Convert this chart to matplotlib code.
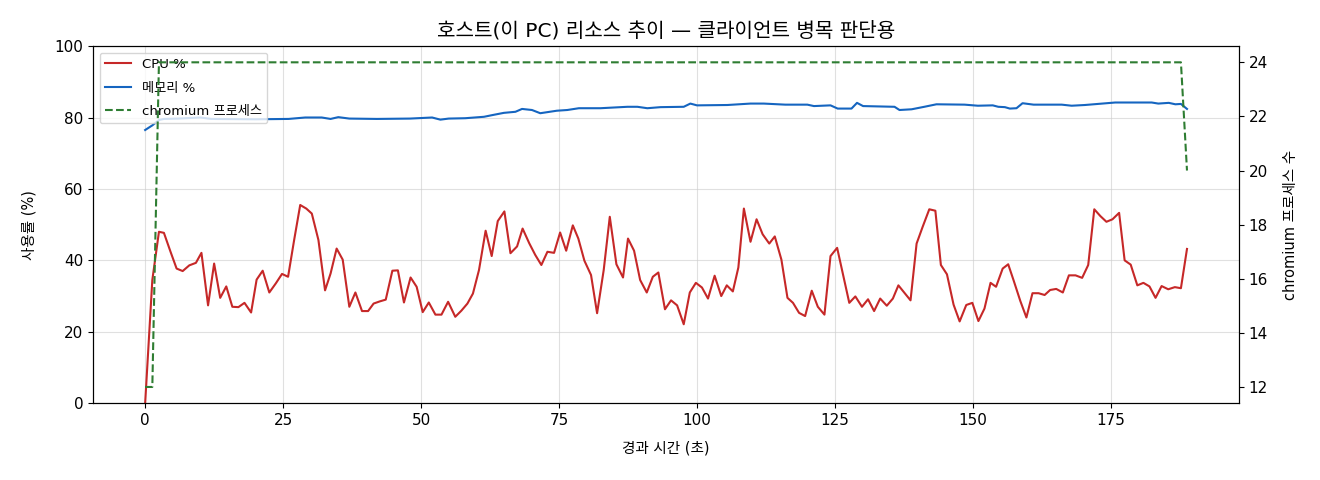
import matplotlib
matplotlib.use("Agg")
import matplotlib.pyplot as plt

plt.rcParams['font.family'] = ['DejaVu Sans', 'Noto Sans CJK KR']
plt.rcParams['axes.unicode_minus'] = False

# elapsed time (s) and CPU %
cpu_t = [0.0, 1.3, 2.5, 3.4, 4.6, 5.7, 6.8, 8.0, 9.2, 10.2, 11.4, 12.5, 13.6, 14.7, 15.8, 16.9,
         18.0, 19.2, 20.2, 21.3, 22.5, 23.7, 24.8, 25.9, 27.0, 28.1, 29.2, 30.2, 31.4, 32.6, 33.6,
         34.7, 35.8, 37.0, 38.1, 39.3, 40.4, 41.4, 42.5, 43.6, 44.8, 45.8, 46.9, 48.1, 49.2, 50.3,
         51.4, 52.6, 53.7, 54.9, 56.2, 57.3, 58.4, 59.4, 60.5, 61.7, 62.8, 63.9, 65.1, 66.2, 67.4,
         68.4, 69.6, 70.7, 71.8, 72.9, 74.1, 75.2, 76.3, 77.5, 78.5, 79.6, 80.8, 81.9, 83.1, 84.2,
         85.4, 86.6, 87.5, 88.6, 89.7, 90.9, 92.0, 93.0, 94.2, 95.3, 96.4, 97.6, 98.7, 99.8, 100.9,
         102.0, 103.2, 104.4, 105.4, 106.5, 107.5, 108.5, 109.7, 110.8, 111.9, 113.1, 114.1, 115.3,
         116.4, 117.4, 118.5, 119.6, 120.8, 121.9, 123.1, 124.2, 125.4, 126.5, 127.6, 128.7, 129.9,
         131.0, 132.1, 133.2, 134.4, 135.5, 136.5, 137.6, 138.7, 139.8, 140.9, 142.1, 143.2, 144.2,
         145.3, 146.5, 147.6, 148.8, 149.9, 151.0, 152.1, 153.2, 154.2, 155.4, 156.4, 157.4, 158.6,
         159.7, 160.8, 161.9, 163.0, 164.0, 165.1, 166.3, 167.4, 168.6, 169.8, 170.9, 172.0, 173.1,
         174.2, 175.3, 176.5, 177.5, 178.6, 179.8, 180.9, 182.0, 183.1, 184.2, 185.4, 186.6, 187.7,
         188.8]
cpu_v = [0, 34.5, 48, 47.7, 42.4, 37.7, 37, 38.6, 39.3, 42.1, 27.4, 39.1, 29.5, 32.7, 27, 26.9,
         28.1, 25.4, 34.6, 37.1, 31, 33.6, 36.2, 35.4, 45.7, 55.5, 54.5, 53.1, 45.7, 31.6, 36.3,
         43.3, 40.2, 27, 31, 25.8, 25.8, 27.9, 28.5, 29, 37.1, 37.2, 28.2, 35.2, 32.6, 25.5,
         28.2, 24.8, 24.8, 28.4, 24.2, 25.9, 27.9, 30.7, 37.3, 48.3, 41.2, 51, 53.7, 42, 43.9,
         48.9, 44.8, 41.5, 38.7, 42.4, 42.1, 47.8, 42.7, 49.8, 46.1, 39.9, 35.9, 25.2, 37.3, 52.2,
         38.9, 35.2, 46.1, 42.7, 34.5, 31, 35.4, 36.6, 26.3, 28.8, 27.4, 22.1, 31, 33.7, 32.4,
         29.3, 35.7, 30, 33, 31.3, 38, 54.5, 45.2, 51.5, 47.3, 44.7, 46.7, 40.2,
         29.5, 28.1, 25.3, 24.4, 31.5, 27, 24.8, 41.2, 43.5, 35.8, 28.1, 29.9, 27,
         29.1, 25.8, 29.3, 27.3, 29.3, 33, 30.9, 28.8, 44.7, 49.4, 54.3, 53.9, 38.7,
         36.1, 27.6, 22.9, 27.5, 28.1, 23, 26.5, 33.7, 32.6, 37.7, 38.9, 34.3, 28.6,
         24, 30.8, 30.8, 30.3, 31.7, 32, 31, 35.8, 35.8, 35.1, 38.7, 54.3, 52.4,
         50.8, 51.5, 53.3, 40, 38.8, 33, 33.7, 32.7, 29.5, 32.8, 31.9, 32.5, 32.2,
         43.2]

# memory % (vertices)
mem_t = [0.0, 1.3, 2.5, 3.4, 6, 10, 12, 20, 26, 29, 32, 33.6, 35, 37, 42, 48, 52, 53.5, 55, 58,
         61.4, 63, 65, 67.1, 68.3, 70.1, 71.6, 74.6, 76.5, 78.6, 82.5, 87.4, 89.2, 91.0, 93.4,
         97.6, 98.8, 100, 105.5, 109.7, 112.1, 116, 120, 121.2, 124.2, 125.5, 128, 129.0, 130.1,
         135.8, 136.7, 138.9, 141.2, 143.4, 148.5, 150.9, 153.6, 154.6, 155.8, 156.7, 157.9,
         159.0, 161.0, 166.1, 167.9, 170.3, 175.8, 182.4, 183.6, 185.5, 186.7, 187.7, 188.8]
mem_v = [76.5, 77.8, 79.3, 79.6, 79.7, 80.0, 79.6, 79.5, 79.6, 80.0, 80.0, 79.6, 80.1, 79.7, 79.6,
         79.7, 80.0, 79.4, 79.7, 79.8, 80.2, 80.7, 81.3, 81.6, 82.4, 82.1, 81.2, 81.9, 82.1, 82.6,
         82.6, 83.0, 83.0, 82.6, 82.9, 83.0, 83.9, 83.4, 83.5, 83.9, 83.9, 83.6, 83.6, 83.2, 83.4,
         82.5, 82.5, 84.1, 83.2, 83.0, 82.1, 82.3, 83.0, 83.7, 83.6, 83.3, 83.4, 83.0, 82.9, 82.5,
         82.6, 84.0, 83.6, 83.6, 83.3, 83.5, 84.2, 84.2, 83.9, 84.1, 83.7, 83.8, 82.4]

# chromium process count
chrom_t = [0.0, 1.3, 2.5, 187.7, 188.8]
chrom_v = [12, 12, 24, 24, 20]

fig = plt.figure(figsize=(13.2, 4.8), dpi=100)
ax = fig.add_axes([0.0705, 0.160, 0.8682, 0.744])
ax2 = ax.twinx()

l1, = ax.plot(cpu_t, cpu_v, color='#c62828', lw=1.5, label='CPU %')
l2, = ax.plot(mem_t, mem_v, color='#1565c0', lw=1.5, label='메모리 %')
l3, = ax2.plot(chrom_t, chrom_v, color='#2e7d32', lw=1.5, ls='--', label='chromium 프로세스')

ax.set_ylim(0, 100)
ax.set_xticks([0, 25, 50, 75, 100, 125, 150, 175])
ax.grid(True, color='#cccccc', alpha=0.6, lw=0.8)
ax.set_xlabel('경과 시간 (초)', fontsize=10.5, labelpad=9)
ax.set_ylabel('사용률 (%)', fontsize=10.5, labelpad=13)
ax2.set_ylabel('chromium 프로세스 수', fontsize=10.5, labelpad=11)
ax.tick_params(labelsize=11)
ax2.tick_params(labelsize=11)
ax.set_title('호스트(이 PC) 리소스 추이 — 클라이언트 병목 판단용', fontsize=14.5, pad=7)

ax.legend(handles=[l1, l2, l3], loc='upper left', fontsize=9.5, framealpha=0.8,
          labelspacing=0.8)

fig.savefig('out.png', dpi=100)
